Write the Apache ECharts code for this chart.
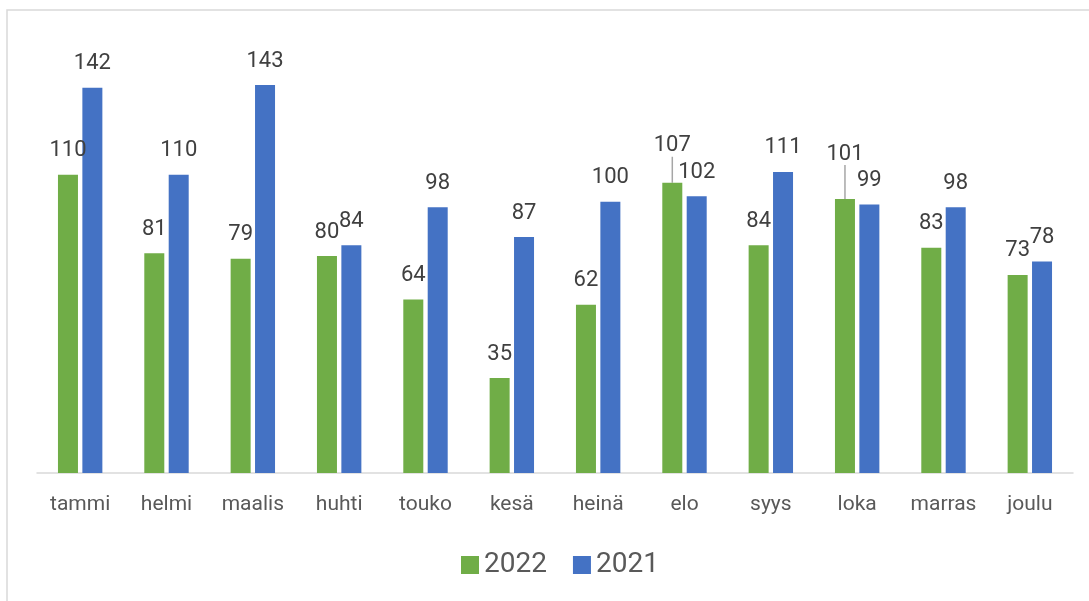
<!DOCTYPE html>
<html>
<head>
<meta charset="utf-8">
<script src="https://cdn.jsdelivr.net/npm/echarts@6/dist/echarts.min.js"></script>
<style>
  html, body { margin: 0; padding: 0; background: #fff; }
  #chart { width: 1089px; height: 601px; }
</style>
</head>
<body>
<div id="chart"></div>
<script>
var months = ['tammi', 'helmi', 'maalis', 'huhti', 'touko', 'kesä', 'heinä', 'elo', 'syys', 'loka', 'marras', 'joulu']
var values2022 = [110, 81, 79, 80, 64, 35, 62, 107, 84, 101, 83, 73]
var values2021 = [142, 110, 143, 84, 98, 87, 100, 102, 111, 99, 98, 78]
// labels that were pulled up in the original (px), drawn with a leader line
var liftLabel2022 = [0, 0, 0, 0, 0, 0, 0, 13, 0, 21, 0, 0]

var chart = echarts.init(document.getElementById('chart'))

var labelStyle = {
  show: true,
  position: 'top',
  distance: 13,
  fontFamily: 'Roboto',
  fontSize: 22,
  color: '#404040'
}

var option = {
  animation: false,
  textStyle: { fontFamily: 'Roboto' },
  graphic: [{
    type: 'rect',
    shape: { x: 7, y: 10, width: 1200, height: 700 },
    style: { fill: 'none', stroke: '#d9d9d9', lineWidth: 1.5 },
    silent: true
  }],
  legend: {
    left: 456,
    top: 546,
    itemWidth: 18,
    itemHeight: 18,
    itemGap: 26,
    icon: 'rect',
    textStyle: { fontSize: 28, color: '#595959', fontFamily: 'Roboto' },
    data: ['2022', '2021']
  },
  grid: {
    left: 37,
    right: 16,
    top: 39,
    bottom: 128
  },
  xAxis: {
    type: 'category',
    data: months,
    axisTick: { show: false },
    axisLine: { lineStyle: { color: '#d9d9d9', width: 1.5 } },
    axisLabel: {
      color: '#595959',
      fontSize: 21,
      fontFamily: 'Roboto',
      margin: 21
    }
  },
  yAxis: {
    type: 'value',
    min: 0,
    max: 160,
    show: false,
    splitLine: { show: false }
  },
  series: [
    {
      name: '2022',
      type: 'bar',
      barWidth: 20,
      barGap: '22%',
      itemStyle: { color: '#70ad47' },
      label: labelStyle,
      labelLine: {
        show: false,
        lineStyle: { color: '#a6a6a6', width: 1.5 }
      },
      labelLayout: function (params) {
        var lift = liftLabel2022[params.dataIndex]
        return lift ? { dy: -lift } : {}
      },
      data: values2022.map(function (v, i) {
        return liftLabel2022[i] ? { value: v, labelLine: { show: true } } : v
      })
    },
    {
      name: '2021',
      type: 'bar',
      barWidth: 20,
      barGap: '22%',
      itemStyle: { color: '#4472c4' },
      label: labelStyle,
      data: values2021
    }
  ]
}

chart.setOption(option)
</script>
</body>
</html>
